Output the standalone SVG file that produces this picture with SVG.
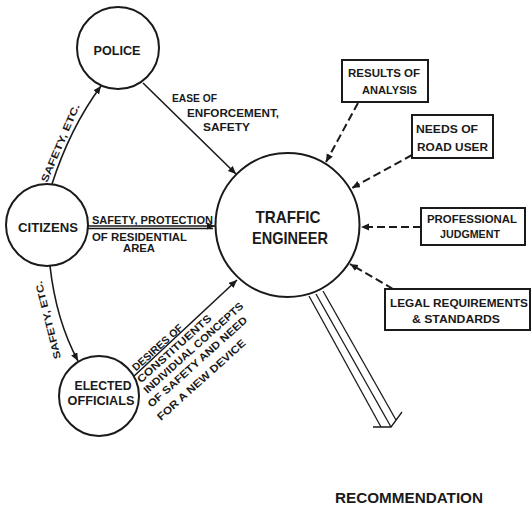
<svg xmlns="http://www.w3.org/2000/svg" width="532" height="509" viewBox="0 0 532 509">
<defs>
<marker id="ah" markerUnits="userSpaceOnUse" markerWidth="10" markerHeight="8" refX="8" refY="3.5" orient="auto">
<path d="M0,0 L8,3.5 L0,7 Z" fill="#1a1a1a"/>
</marker>
<style>
text{font-family:"Liberation Sans",Arial,sans-serif;font-weight:bold;fill:#1a1a1a}
.node{fill:#fff;stroke:#1a1a1a;stroke-width:2}
.box{fill:#fff;stroke:#1a1a1a;stroke-width:2}
.c{fill:none;stroke:#1a1a1a;stroke-width:1.6}
.d{fill:none;stroke:#1a1a1a;stroke-width:2;stroke-dasharray:8 4}
.t{fill:none;stroke:#1a1a1a;stroke-width:1.3}
.lbl{font-size:10px}
.rl{font-size:10.5px}
</style>
</defs>
<rect width="532" height="509" fill="#fff"/>

<g id="connectors">
<path class="c" d="M52,184 Q70,128 101,86" marker-end="url(#ah)"/>
<path class="c" d="M50,266 Q56,320 78,361" marker-end="url(#ah)"/>
<path class="c" d="M143,83 L236,174" marker-end="url(#ah)"/>
<path class="c" d="M88,226 L215,226" marker-end="url(#ah)"/>
<line class="c" x1="88" y1="228.5" x2="213" y2="228.5" stroke-width="1"/>
<path class="c" d="M133,377 L237,280" marker-end="url(#ah)"/>
<path class="d" d="M358,103 L326,162" marker-end="url(#ah)"/>
<path class="d" d="M412,155 L352,188" marker-end="url(#ah)"/>
<path class="d" d="M421,227 L361,227" marker-end="url(#ah)"/>
<path class="d" d="M393,289 L350,264" marker-end="url(#ah)"/>
<g id="recommendation-arrow">
<line class="t" x1="309" y1="296" x2="381" y2="427"/>
<line class="t" x1="316" y1="294" x2="391" y2="427"/>
<line class="t" x1="323" y1="291" x2="396" y2="420"/>
<path class="t" d="M373,427 L391,427 L402,412" stroke-width="1.6"/>
</g>
</g>

<g id="police"><circle class="node" cx="118" cy="48" r="41"/><text x="117" y="55" font-size="13" text-anchor="middle" textLength="47" lengthAdjust="spacingAndGlyphs">POLICE</text></g>
<g id="citizens"><circle class="node" cx="47" cy="225" r="41"/><text x="48" y="232" font-size="13" text-anchor="middle" textLength="60" lengthAdjust="spacingAndGlyphs">CITIZENS</text></g>
<g id="elected-officials"><circle class="node" cx="99" cy="396" r="40"/>
<text x="103" y="390" font-size="12" text-anchor="middle" textLength="57" lengthAdjust="spacingAndGlyphs">ELECTED</text>
<text x="101" y="405" font-size="12" text-anchor="middle" textLength="67" lengthAdjust="spacingAndGlyphs">OFFICIALS</text></g>
<g id="traffic-engineer"><circle class="node" cx="287.5" cy="225" r="72"/>
<text x="288" y="223" font-size="17" text-anchor="middle" textLength="65" lengthAdjust="spacingAndGlyphs">TRAFFIC</text>
<text x="290" y="244" font-size="17" text-anchor="middle" textLength="76" lengthAdjust="spacingAndGlyphs">ENGINEER</text></g>

<g id="results-of-analysis"><rect class="box" x="342" y="60" width="86" height="42"/>
<text x="348" y="77" font-size="11" textLength="72" lengthAdjust="spacingAndGlyphs">RESULTS OF</text>
<text x="362" y="94" font-size="11" textLength="55" lengthAdjust="spacingAndGlyphs">ANALYSIS</text></g>
<g id="needs-of-road-user"><rect class="box" x="412" y="115" width="81" height="43"/>
<text x="416" y="133" font-size="11" textLength="62" lengthAdjust="spacingAndGlyphs">NEEDS OF</text>
<text x="417" y="151" font-size="11" textLength="71" lengthAdjust="spacingAndGlyphs">ROAD USER</text></g>
<g id="professional-judgment"><rect class="box" x="421" y="208" width="104" height="37"/>
<text x="427" y="223" font-size="11" textLength="90" lengthAdjust="spacingAndGlyphs">PROFESSIONAL</text>
<text x="440" y="238" font-size="11" textLength="60" lengthAdjust="spacingAndGlyphs">JUDGMENT</text></g>
<g id="legal-requirements"><rect class="box" x="385" y="289" width="145" height="41"/>
<text x="390" y="307" font-size="11" textLength="138" lengthAdjust="spacingAndGlyphs">LEGAL REQUIREMENTS</text>
<text x="412" y="323" font-size="11" textLength="88" lengthAdjust="spacingAndGlyphs">&amp; STANDARDS</text></g>

<g id="labels">
<text class="lbl" x="172" y="102" textLength="45" lengthAdjust="spacingAndGlyphs">EASE OF</text>
<text class="lbl" x="187" y="117" textLength="92" lengthAdjust="spacingAndGlyphs">ENFORCEMENT,</text>
<text class="lbl" x="203" y="131" textLength="47" lengthAdjust="spacingAndGlyphs">SAFETY</text>
<text class="lbl" x="92" y="224" textLength="121" lengthAdjust="spacingAndGlyphs">SAFETY, PROTECTION</text>
<text class="lbl" x="92" y="241" textLength="95" lengthAdjust="spacingAndGlyphs">OF RESIDENTIAL</text>
<text class="lbl" x="123" y="252" textLength="32" lengthAdjust="spacingAndGlyphs">AREA</text>
<text class="lbl" transform="translate(47,183) rotate(-67)" textLength="84" lengthAdjust="spacingAndGlyphs">SAFETY, ETC.</text>
<text class="lbl" transform="translate(61,358) rotate(-104)" textLength="80" lengthAdjust="spacingAndGlyphs">SAFETY, ETC.</text>
<text class="rl" transform="translate(136,371.5) rotate(-42)" textLength="64" lengthAdjust="spacingAndGlyphs">DESIRES OF</text>
<text class="rl" transform="translate(141,383.5) rotate(-42)" textLength="96" lengthAdjust="spacingAndGlyphs">CONSTITUENTS</text>
<text class="rl" transform="translate(147.5,394) rotate(-42)" textLength="130" lengthAdjust="spacingAndGlyphs">INDIVIDUAL CONCEPTS</text>
<text class="rl" transform="translate(151.5,408) rotate(-42)" textLength="130" lengthAdjust="spacingAndGlyphs">OF SAFETY AND NEED</text>
<text class="rl" transform="translate(161,421) rotate(-42)" textLength="115" lengthAdjust="spacingAndGlyphs">FOR A NEW DEVICE</text>
<text x="335" y="503" font-size="15" textLength="148" lengthAdjust="spacingAndGlyphs">RECOMMENDATION</text>
</g>
</svg>
